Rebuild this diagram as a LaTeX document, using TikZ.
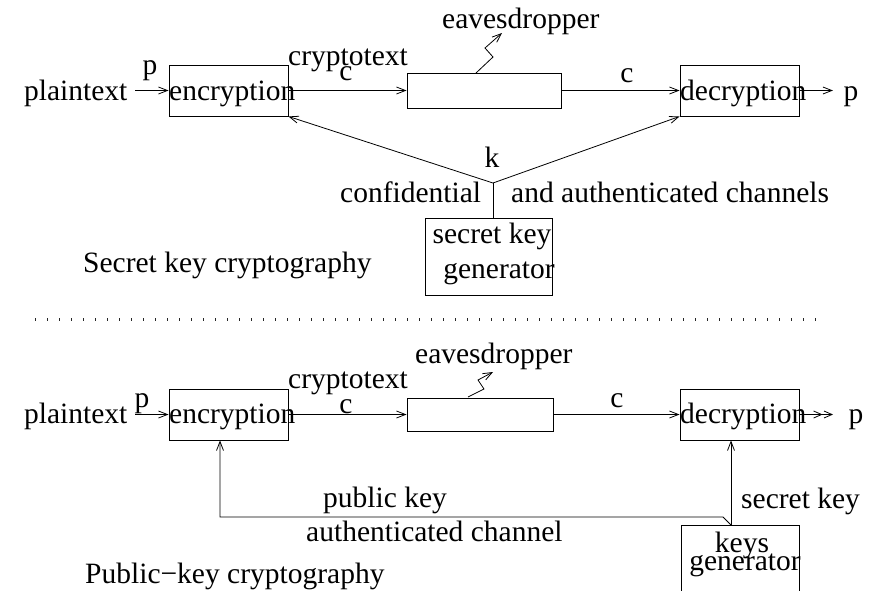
\documentclass[tikz,border=0pt]{standalone}
\usepackage{fontspec}
\setmainfont{Liberation Serif}
\usetikzlibrary{arrows.meta}
\tikzset{
  box/.style={draw, line width=0.9pt, inner sep=0pt, rectangle},
  txt/.style={inner sep=0pt, font=\fontsize{29.5}{32}\selectfont},
  link/.style={line width=0.8pt},
  arr/.style={link, -{Straight Barb[length=9pt,width=7pt]}},
  arrr/.style={link, -{Straight Barb[length=8pt,width=7pt,sep=1pt]Straight Barb[length=8pt,width=7pt]}},
  sepline/.style={line width=3pt, dash pattern=on 1pt off 11pt, black!85}
}
\begin{document}
\begin{tikzpicture}[x=1pt,y=-1pt]
\clip (0,0) rectangle (870,590);
\useasboundingbox (0,0) rectangle (870,590);

% ---------------- Secret key (top) ----------------
\node[box, minimum width=119, minimum height=51] (enc1) at (228.5,90.5) {};
\node[box, minimum width=154, minimum height=35] (ch1) at (484,90.5) {};
\node[box, minimum width=119, minimum height=51] (dec1) at (739.5,90.5) {};
\node[box, minimum width=127, minimum height=77] (skg) at (488.5,256.5) {};

\node[txt, anchor=base west] (pt1) at (24,100) {plaintext};
\node[txt, anchor=base] (p1) at (150,74) {p};
\node[txt, anchor=base west] (enct1) at (169,100) {encryption};
\node[txt, anchor=base west] (ct1) at (288,65) {cryptotext};
\node[txt, anchor=base] (c1a) at (346,80) {c};
\node[txt, anchor=base west] (eav1) at (442,28) {eavesdropper};
\node[txt, anchor=base] (c1b) at (627,82) {c};
\node[txt, anchor=base west] (dect1) at (680,100) {decryption};
\node[txt, anchor=base] (po1) at (851,100) {p};
\node[txt, anchor=base] (k1) at (492,167) {k};
\node[txt, anchor=base west] (conf) at (340,202) {confidential};
\node[txt, anchor=base west] (auth1) at (511,202) {and authenticated channels};
\node[txt, anchor=base] (skg1) at (492,243) {secret key};
\node[txt, anchor=base] (skg2) at (499,278) {generator};
\node[txt, anchor=base west] (title1) at (83,272) {Secret key cryptography};

\coordinate (in1) at (135,90.5);
\coordinate (out1) at (833,90.5);
\coordinate (j1) at (493,183);
\coordinate (e1a) at (476,73);
\coordinate (e1b) at (493,57);
\coordinate (e1c) at (485,48);
\coordinate (e1d) at (502,33);

\draw[arr] (in1) -- (enc1.west);
\draw[arr] (enc1.east) -- (ch1.west);
\draw[arr] (ch1.east) -- (dec1.west);
\draw[arr] (dec1.east) -- (out1);
\draw[arr] (j1) -- (enc1.south east);
\draw[arr] (j1) -- (dec1.south west);
\draw[link] (j1) -- (j1 |- skg.north);
\draw[arr] (e1a) -- (e1b) -- (e1c) -- (e1d);

% ---------------- separator ----------------
\coordinate (s1) at (35,319.5);
\coordinate (s2) at (824,319.5);
\draw[sepline] (s1) -- (s2);

% ---------------- Public key (bottom) ----------------
\node[box, minimum width=119, minimum height=51] (enc2) at (228.5,414.5) {};
\node[box, minimum width=146, minimum height=33] (ch2) at (480,414.5) {};
\node[box, minimum width=119, minimum height=51] (dec2) at (739.5,414.5) {};
\node[box, minimum width=118, minimum height=90] (kg) at (740,570) {};

\node[txt, anchor=base west] (pt2) at (24,423) {plaintext};
\node[txt, anchor=base] (p2) at (142,407) {p};
\node[txt, anchor=base west] (enct2) at (169,423) {encryption};
\node[txt, anchor=base west] (ct2) at (288,388) {cryptotext};
\node[txt, anchor=base] (c2a) at (346,413) {c};
\node[txt, anchor=base west] (eav2) at (415,363) {eavesdropper};
\node[txt, anchor=base] (c2b) at (617,407) {c};
\node[txt, anchor=base west] (dect2) at (680,423) {decryption};
\node[txt, anchor=base] (po2) at (856,423) {p};
\node[txt, anchor=base west] (pub) at (323,507) {public key};
\node[txt, anchor=base west] (auth2) at (306,541) {authenticated channel};
\node[txt, anchor=base west] (sec2) at (741,508) {secret key};
\node[txt, anchor=base] (kg1) at (742,552) {keys};
\node[txt, anchor=base] (kg2) at (745,570) {generator};
\node[txt, anchor=base west] (title2) at (85,583) {Public−key cryptography};

\coordinate (in2) at (135,414.5);
\coordinate (out2) at (833,414.5);
\coordinate (kgtop) at (731,525);
\coordinate (b1) at (723,517);
\coordinate (b2) at (220,517);
\coordinate (e2a) at (468,397);
\coordinate (e2b) at (484,389);
\coordinate (e2c) at (478,380);
\coordinate (e2d) at (493,372);

\draw[arr] (in2) -- (enc2.west);
\draw[arr] (enc2.east) -- (ch2.west);
\draw[arr] (ch2.east) -- (dec2.west);
\draw[arrr] (dec2.east) -- (out2);
\draw[arr] (kgtop) -- (b1) -- (b2) -- (b2 |- enc2.south);
\draw[arr] (kgtop) -- (kgtop |- dec2.south);
\draw[arr] (e2a) -- (e2b) -- (e2c) -- (e2d);
\end{tikzpicture}
\end{document}
